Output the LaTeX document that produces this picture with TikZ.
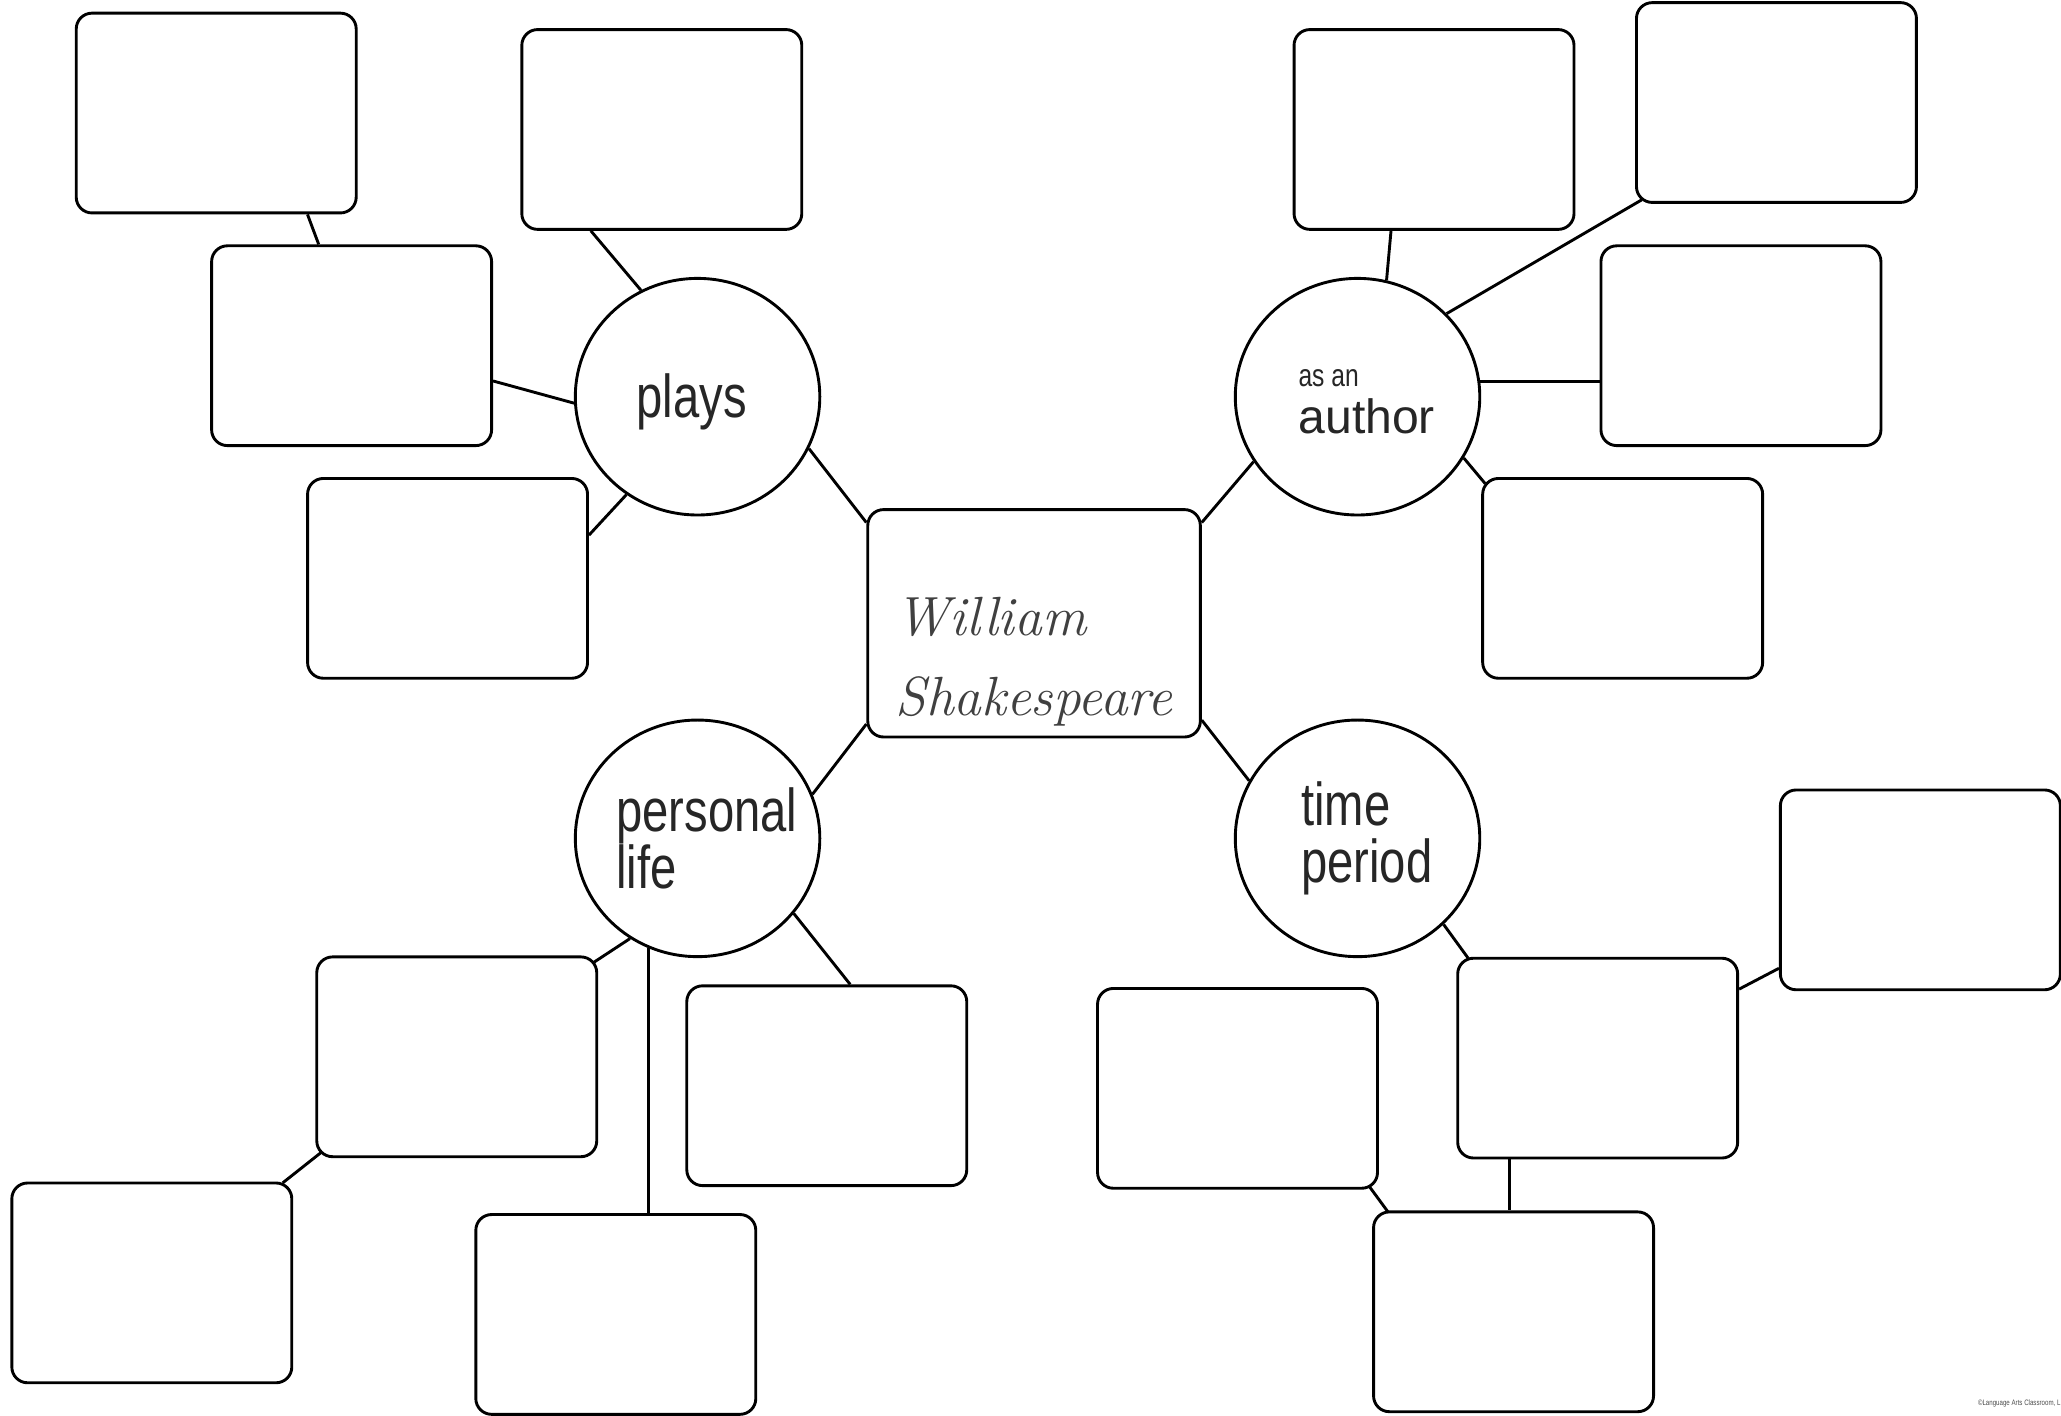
\documentclass[tikz,border=0pt]{standalone}
\usepackage{fontspec}
\newfontfamily\labelfont[FakeStretch=0.78]{Liberation Sans}
\newfontfamily\widefont{Liberation Sans}
\usetikzlibrary{shapes.geometric, calc, backgrounds}
\tikzstyle{box} = [rectangle, rounded corners=6pt, minimum width=106.5pt, minimum height=76pt, draw=black, line width=1.1pt, fill=white]
\tikzstyle{topic} = [ellipse, inner sep=-8pt, minimum width=93pt, minimum height=90pt, draw=black, line width=1.1pt, fill=white, align=left, text=black!85, font=\labelfont\fontsize{23}{22}\selectfont]
\tikzstyle{hub} = [rectangle, rounded corners=6pt, inner sep=0pt, minimum width=126.5pt, minimum height=86.5pt, draw=black, line width=1.1pt, fill=white, align=left, text=black!75, font=\itshape\fontsize{21}{30.5}\selectfont]
\tikzstyle{conn} = [line width=1.1pt]

\begin{document}
\begin{tikzpicture}[x=0.5pt, y=-0.5pt]
    \useasboundingbox (0,0) rectangle (1568,1077);
    \node (ws) [hub] at (786.7,474.2) {\rule{0pt}{44pt}William\\Shakespeare};
    % the four topics
    \node (plays) [topic] at (530.7,301.8) {\rule{0pt}{20.8pt}plays\rule{4.5pt}{0pt}};
    \node (author) [topic] at (1032.8,301.8) {\hspace*{7pt}\rule{0pt}{10.4pt}{\fontsize{12}{12}\selectfont as an}\\[-4pt]\hspace*{7pt}{\widefont\fontsize{18.3}{18}\selectfont author}};
    \node (life) [topic] at (530.7,637.8) {\hspace*{7pt}personal\\\hspace*{7pt}life};
    \node (time) [topic] at (1032.8,637.8) {\hspace*{7pt}time\\\hspace*{7pt}period};
    % empty boxes
    \node (p1) [box] at (164.5,86) {};
    \node (p2) [box] at (267.5,263) {};
    \node (p3) [box] at (340.5,440) {};
    \node (p4) [box] at (503.5,98.5) {};
    \node (a1) [box] at (1091,98.5) {};
    \node (a2) [box] at (1351.5,78) {};
    \node (a3) [box] at (1324.5,263) {};
    \node (a4) [box] at (1234.5,440) {};
    \node (l1) [box] at (347.5,804) {};
    \node (l2) [box] at (115.5,976) {};
    \node (l3) [box] at (468.5,1000) {};
    \node (l4) [box] at (629,826) {};
    \node (t1) [box] at (941.5,828) {};
    \node (t2) [box] at (1215.5,805) {};
    \node (t3) [box] at (1461,677) {};
    \node (t4) [box] at (1151.5,998) {};
    \node (credit) [anchor=base east, inner sep=0pt, text=black!70, font=\labelfont\fontsize{3}{3.5}\selectfont] at (1568,1069.5) {©Language Arts Classroom, L};
    \begin{scope}[on background layer]
    \draw [conn] (p1.-48) -- (p2.108);
    \draw [conn] (p4.-125) -- (plays.118);
    \draw [conn] (p2.-14) -- (plays.183);
    \draw [conn] (p3.17) -- (plays.-126);
    \draw [conn] (plays.-25) -- (ws.149);
    \draw [conn] (ws.31) -- (author.-148);
    \draw [conn] (a1.-113) -- (author.76);
    \draw [conn] (author.43) -- ($(a2.south west)+(5,-3)$);
    \draw [conn] (author.7) -- (author.7 -| a3.west);
    \draw [conn] (author.-30) -- ($(a4.north west)+(3,5)$);
    \draw [conn] (ws.-149) -- (life.21);
    \draw [conn] (ws.-30) -- (time.152);
    \draw [conn] (life.-124) -- ($(l1.north east)+(-3,5)$);
    \draw [conn] ($(l1.south west)+(4,-4)$) -- ($(l2.north east)+(-8,1)$);
    \draw [conn] (life.-114) -- (life.-114 |- l3.north);
    \draw [conn] (life.-38) -- (l4.77);
    \draw [conn] (time.-45) -- ($(t2.north west)+(9,1)$);
    \draw [conn] (t2.26) -- (t3.-151);
    \draw [conn] (t2.-131) -- (t2.-131 |- t4.north);
    \draw [conn] ($(t1.south east)+(-7,-2)$) -- ($(t4.north west)+(12,1)$);
    \end{scope}
\end{tikzpicture}
\end{document}
